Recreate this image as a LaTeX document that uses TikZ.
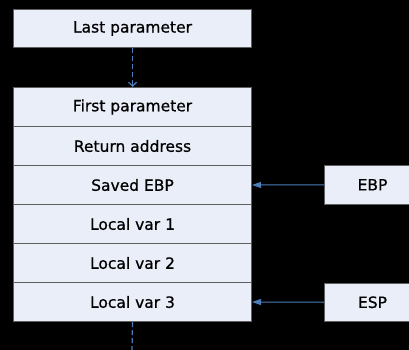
\documentclass[tikz,border=0pt]{standalone}
\usepackage{fontspec}
\setmainfont{DejaVu Sans}
\newfontfamily\lblfont{DejaVu Sans}[FakeBold=0.7]
\usetikzlibrary{arrows.meta}
\definecolor{boxfill}{HTML}{EAEEF8}
\definecolor{boxline}{HTML}{5F5F5F}
\definecolor{arrowblue}{HTML}{4A7EBB}
\begin{document}
\begin{tikzpicture}[x=1pt,y=-1pt,
  cell/.style={draw=boxline, fill=boxfill, line width=1pt, minimum width=238pt, minimum height=39pt, inner sep=0pt, anchor=north west, font=\lblfont\fontsize{15.5}{18}\selectfont},
  reg/.style={draw=boxline, fill=boxfill, line width=1pt, minimum width=96pt, minimum height=38.5pt, inner sep=0pt, anchor=north west, font=\lblfont\fontsize{15.5}{18}\selectfont},
  ptr/.style={draw=arrowblue, line width=1pt, -{Triangle[length=9pt,width=6pt]}},
  dashline/.style={draw=arrowblue, line width=1.2pt, dash pattern=on 5pt off 3pt}
]
\fill[black] (0,0) rectangle (409,350);
\useasboundingbox (0,0) rectangle (409,350);
\node[cell, minimum height=38pt] (last) at (13,9) {Last parameter};
\node[cell] (r1) at (13,87) {First parameter};
\node[cell] (r2) at (13,126) {Return address};
\node[cell] (r3) at (13,165) {Saved EBP};
\node[cell] (r4) at (13,204) {Local var 1};
\node[cell] (r5) at (13,243) {Local var 2};
\node[cell] (r6) at (13,282) {Local var 3};
\node[reg] (ebp) at (324,165) {EBP};
\node[reg] (esp) at (324,282.5) {ESP};
\coordinate (bot) at (132,352);
\draw[dashline, -{Straight Barb[length=4pt,width=8pt]}] (last.south) -- (r1.north);
\draw[dashline] (r6.south) -- (bot);
\draw[ptr] (ebp.west) -- (r3.east);
\draw[ptr] (esp.west) -- (r6.east);
\end{tikzpicture}
\end{document}
